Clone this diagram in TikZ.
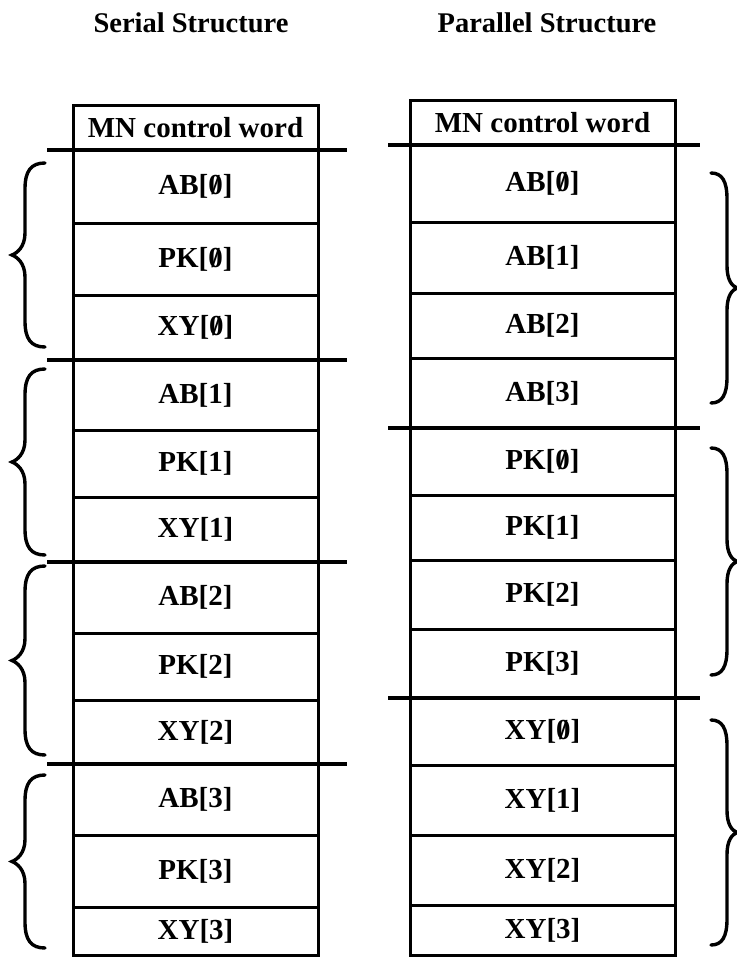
\documentclass[tikz,border=0pt]{standalone}
\usepackage{fontspec}
\setmainfont{Liberation Serif}

% slashed zero
\newcommand\sz{\ooalign{0\cr\hidewidth/\hidewidth\cr}}

\tikzset{
  cell/.style={draw, line width=3pt, rectangle, inner sep=0pt,
    font=\bfseries\fontsize{29}{29}\selectfont},
  heading/.style={font=\bfseries\fontsize{28.5}{28.5}\selectfont, anchor=base},
  grouprule/.style={line width=3.2pt},
  curl/.style={line width=3.4pt, line cap=round},
}

% one table row: name, x centre, width, top, bottom, text
\newcommand\cellrow[6]{%
  \pgfmathsetmacro\cy{(#4+#5)/2}%
  \pgfmathsetmacro\ch{#5-#4}%
  \node[cell, minimum width=#3pt, minimum height=\ch pt] (#1) at (#2,\cy) {#6};}

% brace opening to the right (drawn left of a table): top, bottom
\newcommand\grpbraceL[2]{%
  \pgfmathsetmacro\bm{(#1+#2)/2}%
  \draw[curl] (45,#1) .. controls (31,#1) and (25,#1+8) .. (25,#1+26)
    -- (25,\bm-22) .. controls (25,\bm-8) and (17,\bm-2) .. (12,\bm)
    .. controls (17,\bm+2) and (25,\bm+8) .. (25,\bm+22)
    -- (25,#2-26) .. controls (25,#2-8) and (31,#2) .. (45,#2);}

% brace opening to the left (drawn right of a table): top, bottom
\newcommand\grpbraceR[2]{%
  \pgfmathsetmacro\bm{(#1+#2)/2}%
  \draw[curl] (711,#1) .. controls (722,#1) and (727,#1+8) .. (727,#1+26)
    -- (727,\bm-22) .. controls (727,\bm-8) and (732,\bm-2) .. (737,\bm)
    .. controls (732,\bm+2) and (727,\bm+8) .. (727,\bm+22)
    -- (727,#2-26) .. controls (727,#2-8) and (722,#2) .. (711,#2);}

\begin{document}
\begin{tikzpicture}[x=1pt,y=-1pt]
\useasboundingbox (0,0) rectangle (736,958);

% headings
\node[heading] (serialtitle) at (191,33) {Serial Structure};
\node[heading] (paralleltitle) at (547,33) {Parallel Structure};

% ---- serial layout ----
\cellrow{sMN}{195.5}{245}{105}{150}{MN control word}
\cellrow{sAB0}{195.5}{245}{150}{223}{AB[\sz]}
\cellrow{sPK0}{195.5}{245}{223}{295}{PK[\sz]}
\cellrow{sXY0}{195.5}{245}{295}{360}{XY[\sz]}
\cellrow{sAB1}{195.5}{245}{360}{430}{AB[1]}
\cellrow{sPK1}{195.5}{245}{430}{497}{PK[1]}
\cellrow{sXY1}{195.5}{245}{497}{562}{XY[1]}
\cellrow{sAB2}{195.5}{245}{562}{633}{AB[2]}
\cellrow{sPK2}{195.5}{245}{633}{700}{PK[2]}
\cellrow{sXY2}{195.5}{245}{700}{764}{XY[2]}
\cellrow{sAB3}{195.5}{245}{764}{835}{AB[3]}
\cellrow{sPK3}{195.5}{245}{835}{907}{PK[3]}
\cellrow{sXY3}{195.5}{245}{907}{955}{XY[3]}

% group separators
\foreach \gy in {150,360,562,764}
  \draw[grouprule] (47,\gy) -- (347,\gy);

\grpbraceL{163}{347}
\grpbraceL{369}{555}
\grpbraceL{566}{755}
\grpbraceL{775}{948}

% ---- parallel layout ----
\cellrow{pMN}{542.5}{265}{100}{145}{MN control word}
\cellrow{pAB0}{542.5}{265}{145}{222}{AB[\sz]}
\cellrow{pAB1}{542.5}{265}{222}{293}{AB[1]}
\cellrow{pAB2}{542.5}{265}{293}{358}{AB[2]}
\cellrow{pAB3}{542.5}{265}{358}{428}{AB[3]}
\cellrow{pPK0}{542.5}{265}{428}{495}{PK[\sz]}
\cellrow{pPK1}{542.5}{265}{495}{560}{PK[1]}
\cellrow{pPK2}{542.5}{265}{560}{629}{PK[2]}
\cellrow{pPK3}{542.5}{265}{629}{698}{PK[3]}
\cellrow{pXY0}{542.5}{265}{698}{765}{XY[\sz]}
\cellrow{pXY1}{542.5}{265}{765}{835}{XY[1]}
\cellrow{pXY2}{542.5}{265}{835}{905}{XY[2]}
\cellrow{pXY3}{542.5}{265}{905}{955}{XY[3]}

\foreach \gy in {145,428,698}
  \draw[grouprule] (388,\gy) -- (700,\gy);

\grpbraceR{173}{403}
\grpbraceR{448}{675}
\grpbraceR{720}{945}
\end{tikzpicture}
\end{document}
